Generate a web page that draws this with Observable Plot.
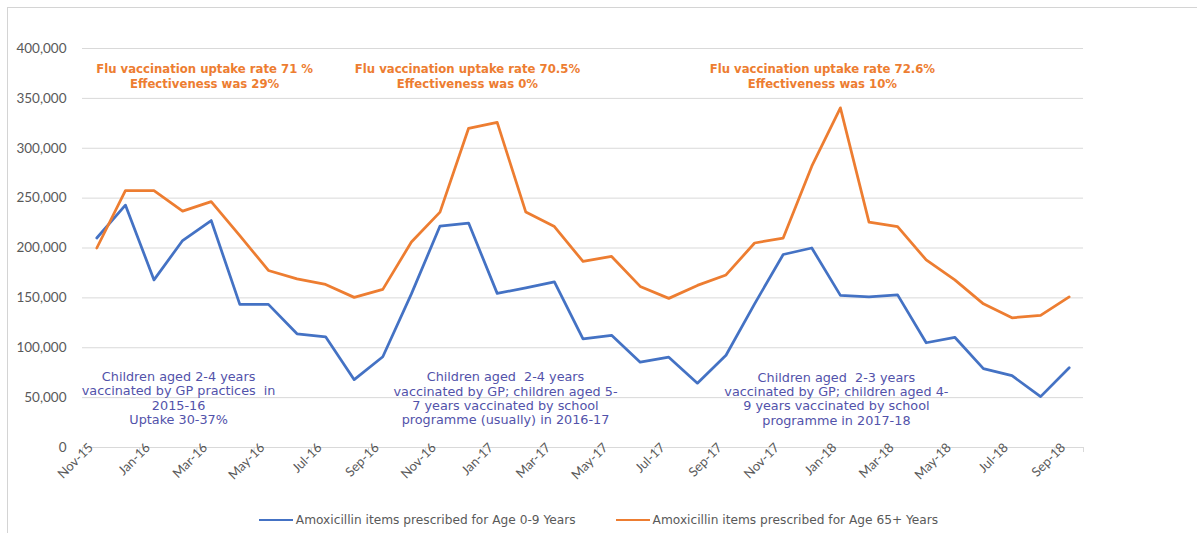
<!DOCTYPE html>
<html><head><meta charset="utf-8">
<script src="https://cdn.jsdelivr.net/npm/d3@7"></script>
<script src="https://cdn.jsdelivr.net/npm/@observablehq/plot@0.6"></script>
<style>
body{margin:0;background:#fff;}
#wrap{position:relative;width:1197px;height:533px;font-family:Lato,sans-serif;overflow:hidden;}
#frame{position:absolute;left:7px;top:7px;right:0;bottom:0;border-top:1px solid #d4d4d4;border-left:1px solid #d4d4d4;pointer-events:none;}
#legend{display:flex;justify-content:center;gap:40px;font-family:"DejaVu Sans",sans-serif;font-size:12.2px;color:#595959;height:26px;padding-top:12px;align-items:center;}
.item{display:flex;align-items:center;}
.sw{display:inline-block;width:34px;height:0;border-top:2.5px solid;margin-right:3px;}
</style></head>
<body><div id="wrap"><div id="chart"></div><div id="legend"></div><div id="frame"></div></div>
<script>
const months = ["Nov-15","Dec-15","Jan-16","Feb-16","Mar-16","Apr-16","May-16","Jun-16","Jul-16","Aug-16","Sep-16","Oct-16",
  "Nov-16","Dec-16","Jan-17","Feb-17","Mar-17","Apr-17","May-17","Jun-17","Jul-17","Aug-17","Sep-17","Oct-17",
  "Nov-17","Dec-17","Jan-18","Feb-18","Mar-18","Apr-18","May-18","Jun-18","Jul-18","Aug-18","Sep-18"];
const age0to9 = [210000,243000,168000,207500,227500,143500,143500,114000,111000,68000,91000,154000,
  222000,225000,154500,160000,166000,109000,112500,85500,90500,64500,92500,144000,
  193500,200000,152500,151000,153000,105000,110500,79000,72000,51000,80000];
const age65plus = [200000,257500,257500,237000,246500,212500,177500,169000,163500,150500,158500,206000,
  236000,320000,326000,236000,221500,186500,191500,161500,149500,162500,173000,205000,
  210000,282000,340500,226000,221500,188000,168000,144000,130000,132500,151000];
const seriesNames = ["Amoxicillin items prescribed for Age 0-9 Years","Amoxicillin items prescribed for Age 65+ Years"];
const seriesColors = ["#4472C4","#ED7D31"];
const yTicks = [0,50000,100000,150000,200000,250000,300000,350000,400000];
const xLabelMonths = months.filter((m,i)=>i%2===0);

const fluNotes = [
  {text:"Flu vaccination uptake rate 71 %\nEffectiveness was 29%", at:"Feb-16", shift:0.77, value:373000},
  {text:"Flu vaccination uptake rate 70.5%\nEffectiveness was 0%", at:"Nov-16", shift:0.96, value:373000},
  {text:"Flu vaccination uptake rate 72.6%\nEffectiveness was 10%", at:"Dec-17", shift:0.37, value:373000}
];
const childNotes = [
  {text:"Children aged 2-4 years\nvaccinated by GP practices  in\n2015-16\nUptake 30-37%", at:"Jan-16", shift:0.86, value:49700},
  {text:"Children aged  2-4 years\nvaccinated by GP; children aged 5-\n7 years vaccinated by school\nprogramme (usually) in 2016-17", at:"Jan-17", shift:0.29, value:49500},
  {text:"Children aged  2-3 years\nvaccinated by GP; children aged 4-\n9 years vaccinated by school\nprogramme in 2017-18", at:"Dec-17", shift:0.86, value:49000}
];

const rows = [];
months.forEach((m,i)=>{
  rows.push({i, month:m, value:age0to9[i], series:seriesNames[0]});
  rows.push({i, month:m, value:age65plus[i], series:seriesNames[1]});
});
const idx = m => months.indexOf(m);
const boundaries = months.map((m,i)=>i-0.5).filter((b,k)=>k%2===0).concat([months.length-0.5]);

const chart = Plot.plot({
  width:1197, height:495,
  marginLeft:82, marginRight:114, marginTop:48, marginBottom:48,
  style:{color:"#595959", fontFamily:"Lato, sans-serif", background:"transparent"},
  x:{type:"linear", domain:[-0.5, months.length-0.5]},
  y:{domain:[0,400000]},
  color:{domain:seriesNames, range:seriesColors},
  marks:[
    Plot.ruleY(yTicks, {stroke:"#d9d9d9", strokeWidth:1}),
    Plot.axisY({ticks:yTicks, tickFormat:d3.format(","), tickSize:0, tickPadding:16, fontSize:13.5, label:null}),
    Plot.axisX({ticks:boundaries, tickFormat:()=>"", tickSize:5, stroke:"#d9d9d9", label:null}),
    Plot.axisX({ticks:xLabelMonths.map(idx), tickFormat:i=>months[i], tickRotate:-45, tickSize:0, tickPadding:0, dx:-6, dy:-2, fontSize:13, label:null}),
    Plot.line(rows, {x:"i", y:"value", z:"series", stroke:"series", strokeWidth:2.75, strokeLinejoin:"round", curve:"linear"}),
    Plot.text(fluNotes, {x:d=>idx(d.at)+d.shift, y:"value", text:"text", fill:"#ED7D31", fontWeight:"bold", fontFamily:"DejaVu Sans", fontSize:11.7, lineHeight:1.36, textAnchor:"middle"}),
    Plot.text(childNotes, {x:d=>idx(d.at)+d.shift, y:"value", text:"text", fill:"#5252AA", fontFamily:"DejaVu Sans", fontSize:12.8, lineHeight:1.12, textAnchor:"middle"})
  ]
});
document.getElementById("chart").appendChild(chart);

const legend = document.getElementById("legend");
seriesNames.forEach((n,k)=>{
  const it = document.createElement("div"); it.className="item";
  const sw = document.createElement("span"); sw.className="sw"; sw.style.borderTopColor = seriesColors[k];
  const tx = document.createElement("span"); tx.textContent = n;
  it.appendChild(sw); it.appendChild(tx); legend.appendChild(it);
});
</script></body></html>
